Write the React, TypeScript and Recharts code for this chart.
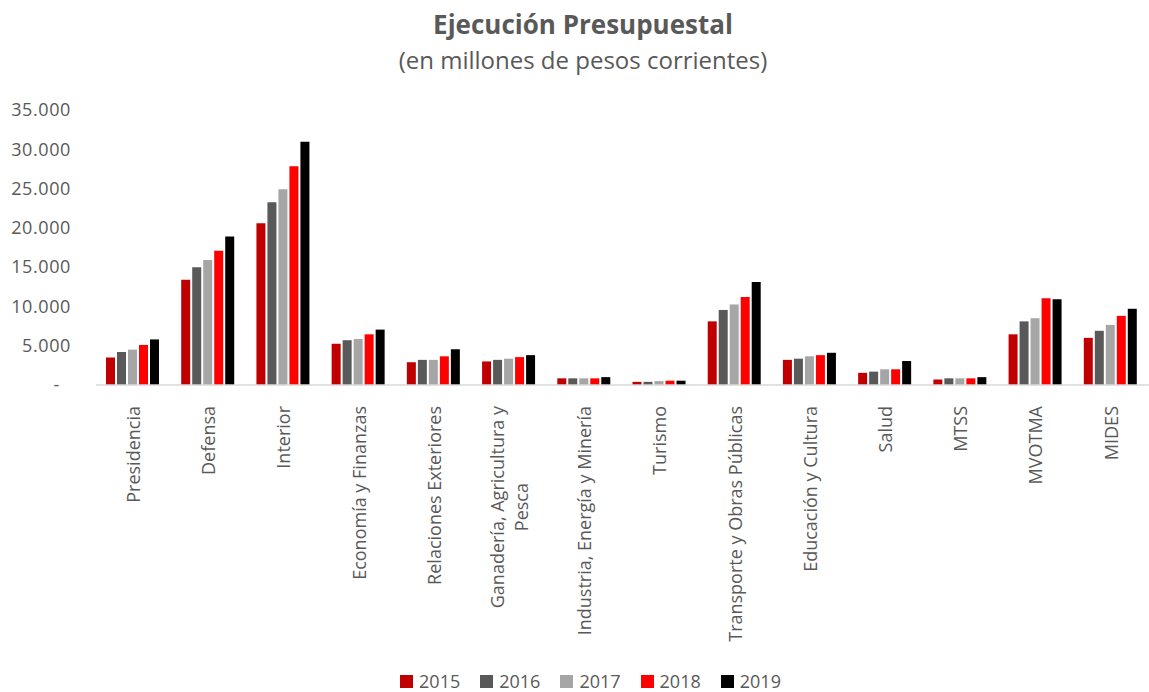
import React from 'react';
import { BarChart, Bar, XAxis, YAxis, Legend } from 'recharts';

// Ejecución presupuestal por inciso (millones de pesos corrientes)
const CATEGORIES = [
    'Presidencia', 'Defensa', 'Interior', 'Economía y Finanzas', 'Relaciones Exteriores',
    'Ganadería, Agricultura y Pesca', 'Industria, Energía y Minería', 'Turismo',
    'Transporte y Obras Públicas', 'Educación y Cultura', 'Salud', 'MTSS', 'MVOTMA', 'MIDES'
];
const YEARS = ['2015', '2016', '2017', '2018', '2019'];
const V2015 = [3500, 13400, 20600, 5250, 2900, 3000, 850, 400, 8100, 3200, 1550, 700, 6450, 6000];
const V2016 = [4200, 15000, 23250, 5700, 3200, 3200, 850, 400, 9550, 3350, 1700, 850, 8100, 6900];
const V2017 = [4500, 15900, 24900, 5850, 3200, 3350, 850, 500, 10250, 3650, 2000, 850, 8500, 7650];
const V2018 = [5100, 17100, 27850, 6450, 3650, 3550, 850, 550, 11200, 3800, 2000, 850, 11050, 8800];
const V2019 = [5800, 18900, 30950, 7050, 4550, 3800, 1000, 550, 13100, 4100, 3050, 1000, 10900, 9700];
const Y_TICKS = [0, 5000, 10000, 15000, 20000, 25000, 30000, 35000];

const SERIES = [V2015, V2016, V2017, V2018, V2019];
const COLORS = ['#C00000', '#595959', '#A6A6A6', '#FF0000', '#000000'];
const TEXT = '#595959';
const FONT = "'Open Sans', sans-serif";

const data = CATEGORIES.map((name, i) => {
    const row: any = { name };
    YEARS.forEach((y, s) => { row[y] = SERIES[s][i]; });
    return row;
});

let ctx: CanvasRenderingContext2D | null = null;
const measure = (text: string, font: string) => {
    if (!ctx) ctx = document.createElement('canvas').getContext('2d');
    if (!ctx) return text.length * 8;
    ctx.font = font;
    return ctx.measureText(text).width;
};

// only the longest label is broken in two, like the original
const wrap = (text: string) => {
    if (text.length <= 29) return [text];
    const cut = text.lastIndexOf(' ', 25);
    return [text.slice(0, cut), text.slice(cut + 1)];
};

const XTick = ({ x, y, payload }: any) => {
    const lines = wrap(payload.value);
    const widths = lines.map((l) => measure(l, `18px ${FONT}`));
    const maxW = Math.max(...widths);
    const lh = 24;
    return (
        <g transform={`translate(${x},${y + 13 + maxW / 2}) rotate(-90)`}>
            {lines.map((l, i) => (
                <text key={i} x={0} y={(i - (lines.length - 1) / 2) * lh} dy="0.35em"
                    textAnchor="middle" fill={TEXT} fontSize={18} fontFamily={FONT}>
                    {l}
                </text>
            ))}
        </g>
    );
};

const YTick = ({ x, y, payload }: any) => {
    const v = payload.value;
    const label = v === 0 ? '-' : v.toLocaleString('de-DE');
    return (
        <text x={v === 0 ? x - 11 : x} y={y} dy="0.35em" textAnchor="end" fill={TEXT}
            fontSize={18} fontFamily={FONT} letterSpacing={0.6}>
            {label}
        </text>
    );
};

const LegendContent = () => (
    <div style={{ display: 'flex', justifyContent: 'center', alignItems: 'center', boxSizing: 'border-box', height: 28, paddingTop: 6, lineHeight: '22px', fontFamily: FONT, fontSize: 18, color: TEXT, paddingLeft: 52 }}>
        {YEARS.map((y, i) => (
            <div key={y} style={{ display: 'flex', alignItems: 'center', marginRight: 20 }}>
                <div style={{ width: 13, height: 13, background: COLORS[i], marginRight: 6 }}></div>
                <span>{y}</span>
            </div>
        ))}
    </div>
);

const App = () => {
    return (
        <div style={{ width: 1149, height: 692, position: 'relative', background: '#fff' }}>
            <style>{'body{margin:0}'}</style>
            <div style={{ position: 'absolute', top: 6, left: 0, width: 1166, textAlign: 'center', fontFamily: FONT, color: TEXT }}>
                <div style={{ fontSize: 26, fontWeight: 700, lineHeight: '36px' }}>Ejecución Presupuestal</div>
                <div style={{ fontSize: 24, lineHeight: '36px' }}>(en millones de pesos corrientes)</div>
            </div>
            <BarChart width={1149} height={692} data={data}
                margin={{ top: 110, right: 0, bottom: 0, left: 0 }}
                barCategoryGap={10} barGap={2}>
                <XAxis dataKey="name" height={279} interval={0} tick={<XTick />}
                    tickLine={false} axisLine={{ stroke: '#D9D9D9', strokeWidth: 1.5 }} />
                <YAxis width={96} domain={[0, 35000]} ticks={Y_TICKS} tick={<YTick />}
                    axisLine={false} tickLine={false} tickMargin={19} />
                <Legend verticalAlign="bottom" content={<LegendContent />} />
                {YEARS.map((y, i) => (
                    <Bar key={y} dataKey={y} fill={COLORS[i]} isAnimationActive={false} />
                ))}
            </BarChart>
        </div>
    );
};

export default App;
